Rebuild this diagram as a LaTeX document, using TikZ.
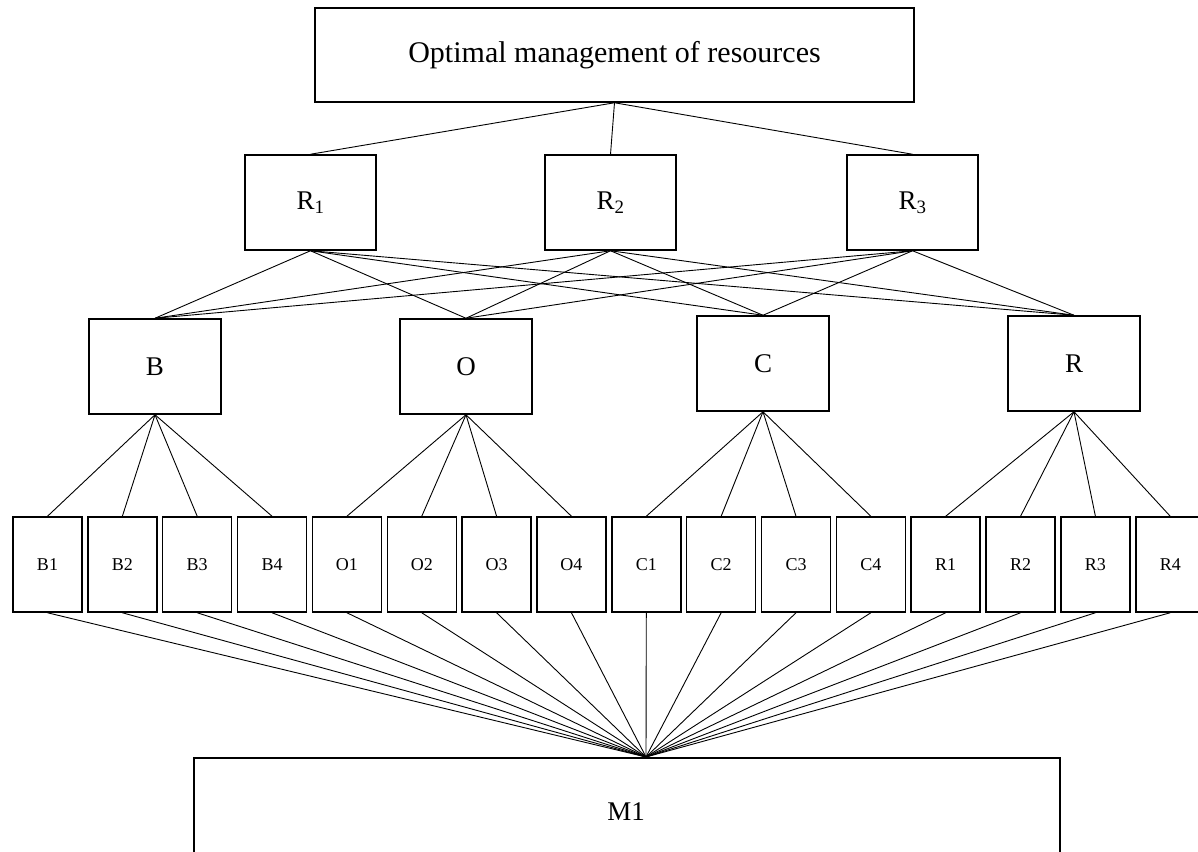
\documentclass[tikz,border=0pt]{standalone}
\usepackage{fontspec}
\setmainfont{Liberation Serif}
\begin{document}
\begin{tikzpicture}[x=1pt,y=-1pt,
  box/.style={draw,line width=1.5pt,inner sep=0pt,anchor=center},
  conn/.style={line width=0.9pt},
  fbig/.style={font=\fontsize{30}{33}\selectfont},
  fmid/.style={font=\fontsize{27}{30}\selectfont},
  fsmall/.style={font=\fontsize{18}{20}\selectfont}]
\useasboundingbox (0,0) rectangle (1198,851);
\fill[white] (0,0) rectangle (1198,851);
% top
\node[box,fbig,minimum width=599pt,minimum height=94pt] (top) at (614.5,55) {Optimal management of resources};
% R level
\node[box,fmid,minimum width=131pt,minimum height=95pt] (ra) at (310.5,202.5) {R\textsubscript{1}};
\node[box,fmid,minimum width=131pt,minimum height=95pt] (rb) at (610.5,202.5) {R\textsubscript{2}};
\node[box,fmid,minimum width=131pt,minimum height=95pt] (rc) at (912.5,202.5) {R\textsubscript{3}};
% mid level
\node[box,fmid,minimum width=132pt,minimum height=95pt] (B) at (155,366.5) {B};
\node[box,fmid,minimum width=132pt,minimum height=95pt] (O) at (466,366.5) {O};
\node[box,fmid,minimum width=132pt,minimum height=95pt] (C) at (763,363.5) {C};
\node[box,fmid,minimum width=132pt,minimum height=95pt] (R) at (1074,363.5) {R};
% lower
\foreach \n [count=\i from 0] in {B1,B2,B3,B4,O1,O2,O3,O4,C1,C2,C3,C4,R1,R2,R3,R4}{
  \node[box,fsmall,minimum width=69pt,minimum height=95pt] (\n) at ({47.5+74.85*\i},564.5) {\n};
}
% M1
\node[box,minimum width=866pt,minimum height=120pt,anchor=north west] (M) at (193,757) {};
\node[fmid,inner sep=0pt] (Mtext) at (626,812) {M1};
\coordinate (conv) at (646,757);
% connectors
\foreach \r in {ra,rb,rc}{ \draw[conn] (top.south) -- (\r.north); }
\foreach \r in {ra,rb,rc}{
  \foreach \m in {B,O,C,R}{ \draw[conn] (\r.south) -- (\m.north); }
}
\foreach \m in {B,O,C,R}{
  \foreach \k in {1,2,3,4}{ \draw[conn] (\m.south) -- (\m\k.north); }
}
\foreach \n in {B1,B2,B3,B4,O1,O2,O3,O4,C1,C2,C3,C4,R1,R2,R3,R4}{
  \draw[conn] (\n.south) -- (conv);
}
\end{tikzpicture}
\end{document}
